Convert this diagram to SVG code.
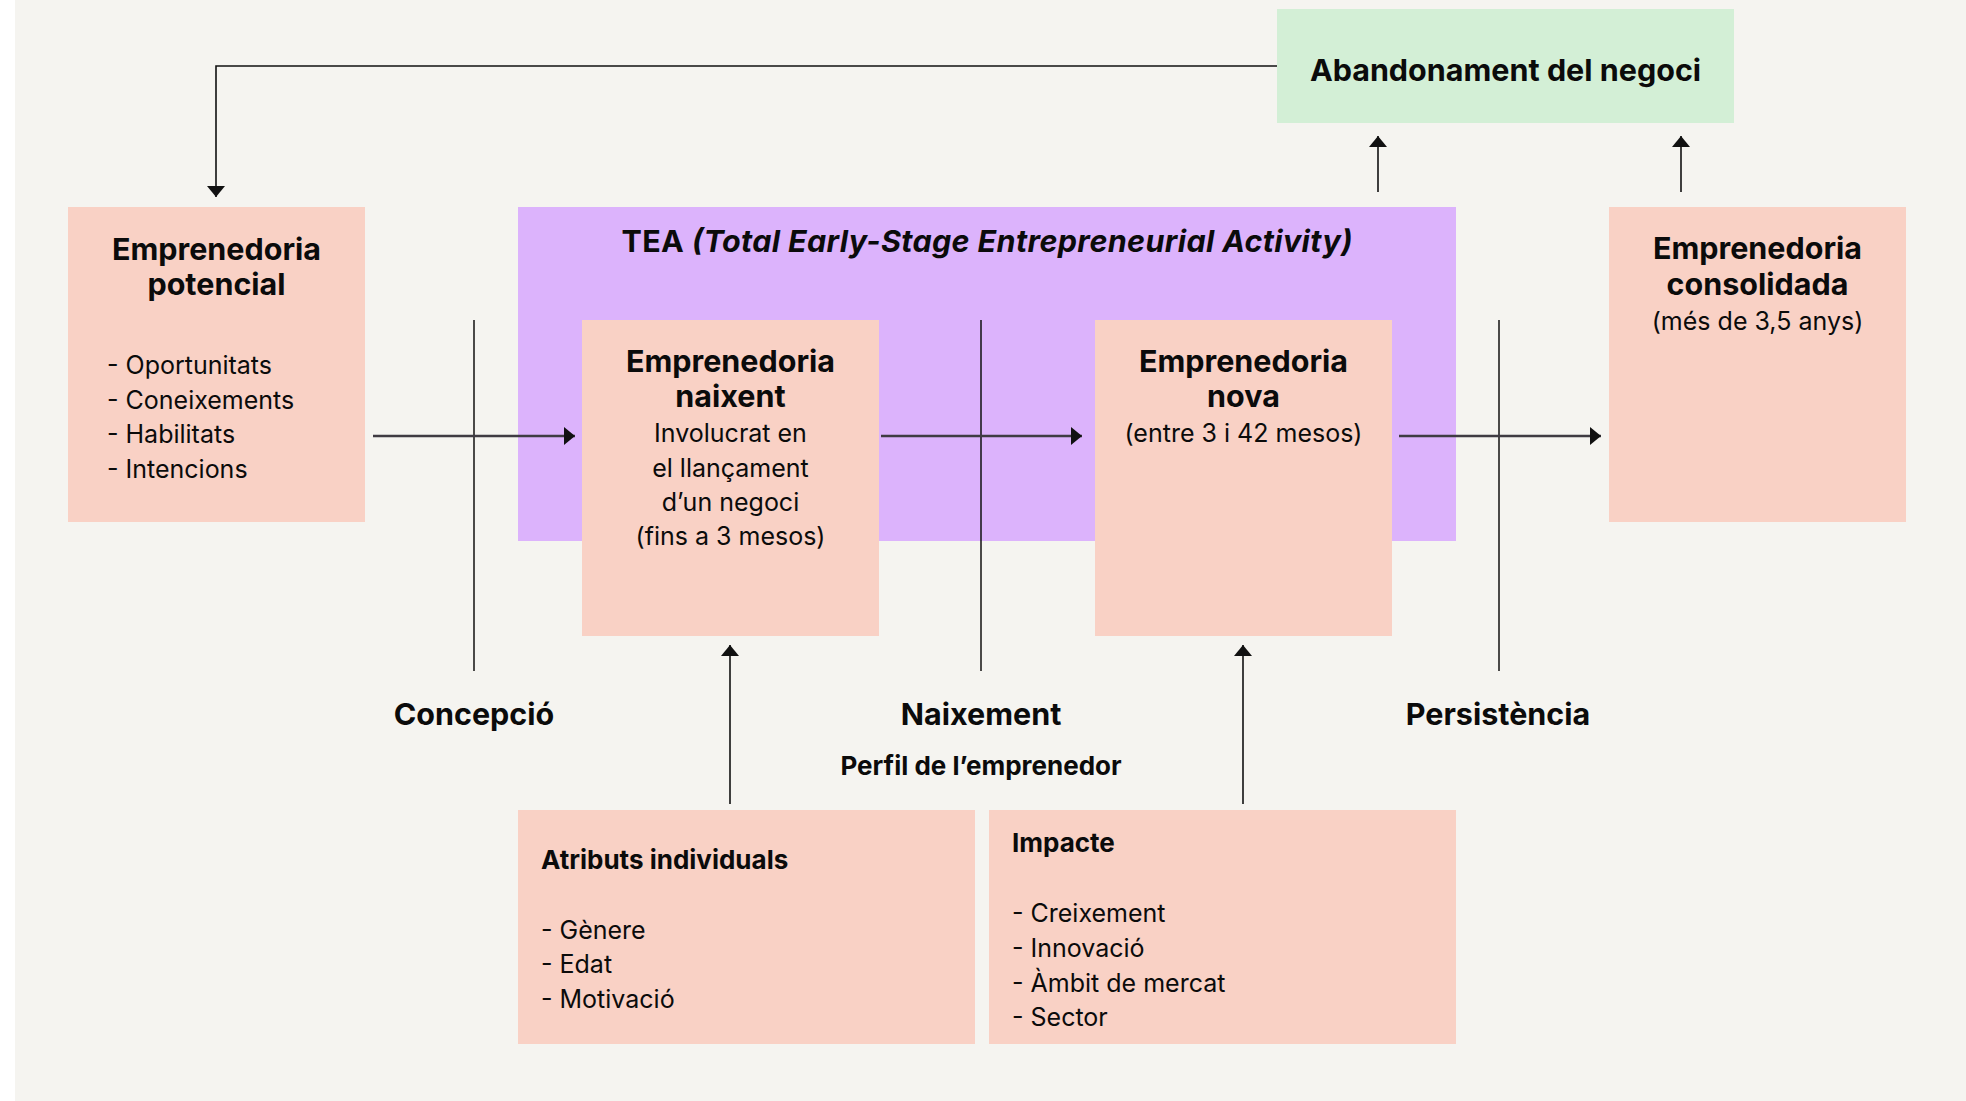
<svg xmlns="http://www.w3.org/2000/svg" width="1966" height="1101" viewBox="0 0 1966 1101">
<defs>
<style>
text{font-family:Inter,"Noto Sans","Liberation Sans",sans-serif;fill:#0b0b0b}
.t{font-size:30.5px;font-weight:700;text-anchor:middle}
.r{font-size:25px;font-weight:400}
.rc{font-size:25px;font-weight:400;text-anchor:middle}
.s{font-size:26px;font-weight:700}
.pink{fill:#f9d1c5}
.conn{stroke:#111;stroke-width:1.6;fill:none}
.harr{stroke:#3f3b42;stroke-width:2.6;fill:none}
.div{stroke:#111;stroke-width:1.5;fill:none}
</style>
<marker id="ah" viewBox="0 0 11 18" refX="11" refY="9" markerWidth="11" markerHeight="18" markerUnits="userSpaceOnUse" orient="auto">
<path d="M0,0 L11,9 L0,18 z" fill="#111"/>
</marker>
</defs>
<rect x="0" y="0" width="1966" height="1101" fill="#ffffff"/>
<rect x="15" y="0" width="1951" height="1101" fill="#f5f4f0"/>

<g id="tea">
<rect x="518" y="207" width="938" height="334" fill="#dcb3fc"/>
<text class="t" x="987" y="252" textLength="731" lengthAdjust="spacing">TEA <tspan font-style="italic">(Total Early-Stage Entrepreneurial Activity)</tspan></text>
</g>

<g id="abandonament">
<rect x="1277" y="9" width="457" height="114" fill="#d3efd6"/>
<text class="t" x="1505.5" y="81">Abandonament del negoci</text>
</g>

<g id="potencial">
<rect class="pink" x="68" y="207" width="297" height="315"/>
<text class="t" x="216.5" y="260">Emprenedoria</text>
<text class="t" x="216.5" y="295">potencial</text>
<text class="r" x="107" y="374">- Oportunitats</text>
<text class="r" x="107" y="409">- Coneixements</text>
<text class="r" x="107" y="443">- Habilitats</text>
<text class="r" x="107" y="478">- Intencions</text>
</g>

<g id="naixent">
<rect class="pink" x="582" y="320" width="297" height="316"/>
<text class="t" x="730.5" y="372">Emprenedoria</text>
<text class="t" x="730.5" y="407">naixent</text>
<text class="rc" x="730.5" y="442">Involucrat en</text>
<text class="rc" x="730.5" y="477">el llançament</text>
<text class="rc" x="730.5" y="511">d’un negoci</text>
<text class="rc" x="730.5" y="545">(fins a 3 mesos)</text>
</g>

<g id="nova">
<rect class="pink" x="1095" y="320" width="297" height="316"/>
<text class="t" x="1243.5" y="372">Emprenedoria</text>
<text class="t" x="1243.5" y="407">nova</text>
<text class="rc" x="1243.5" y="442">(entre 3 i 42 mesos)</text>
</g>

<g id="consolidada">
<rect class="pink" x="1609" y="207" width="297" height="315"/>
<text class="t" x="1757.5" y="259">Emprenedoria</text>
<text class="t" x="1757.5" y="295">consolidada</text>
<text class="rc" x="1757.5" y="330">(més de 3,5 anys)</text>
</g>

<g id="atributs">
<rect class="pink" x="518" y="810" width="457" height="234"/>
<text class="s" x="541" y="869">Atributs individuals</text>
<text class="r" x="541" y="939">- Gènere</text>
<text class="r" x="541" y="973">- Edat</text>
<text class="r" x="541" y="1008">- Motivació</text>
</g>

<g id="impacte">
<rect class="pink" x="989" y="810" width="467" height="234"/>
<text class="s" x="1012" y="852">Impacte</text>
<text class="r" x="1012" y="922">- Creixement</text>
<text class="r" x="1012" y="957">- Innovació</text>
<text class="r" x="1012" y="992">- Àmbit de mercat</text>
<text class="r" x="1012" y="1026">- Sector</text>
</g>

<g id="labels">
<text class="t" x="474" y="725">Concepció</text>
<text class="t" x="981" y="725">Naixement</text>
<text class="t" x="1498" y="725">Persistència</text>
<text class="s" x="981" y="775" text-anchor="middle">Perfil de l’emprenedor</text>
</g>

<g id="connectors">
<line class="div" x1="474" y1="320" x2="474" y2="671"/>
<line class="div" x1="981" y1="320" x2="981" y2="671"/>
<line class="div" x1="1499" y1="320" x2="1499" y2="671"/>
<line class="harr" x1="373" y1="436" x2="575" y2="436" marker-end="url(#ah)"/>
<line class="harr" x1="881" y1="436" x2="1082" y2="436" marker-end="url(#ah)"/>
<line class="harr" x1="1399" y1="436" x2="1601" y2="436" marker-end="url(#ah)"/>
<line class="conn" x1="730" y1="804" x2="730" y2="645" marker-end="url(#ah)"/>
<line class="conn" x1="1243" y1="804" x2="1243" y2="645" marker-end="url(#ah)"/>
<line class="conn" x1="1378" y1="192" x2="1378" y2="136" marker-end="url(#ah)"/>
<line class="conn" x1="1681" y1="192" x2="1681" y2="136" marker-end="url(#ah)"/>
<polyline class="conn" points="1277,66 216,66 216,197" marker-end="url(#ah)"/>
</g>
</svg>
